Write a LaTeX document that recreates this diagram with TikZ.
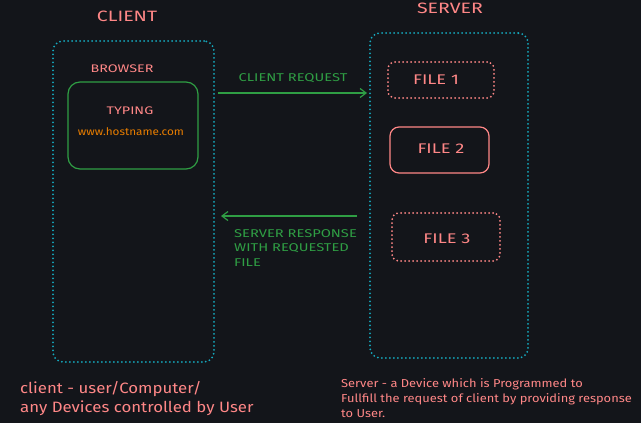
\documentclass[tikz,border=0pt]{standalone}
\usepackage{fontspec}
\setmainfont{Fira Sans}
\newfontfamily\capsfont[FakeStretch=1.3]{Fira Sans}
\newfontfamily\lowfont[FakeStretch=1.12]{Fira Sans}
\usetikzlibrary{arrows.meta}
\definecolor{bg}{RGB}{19,21,26}
\definecolor{salmon}{RGB}{255,135,135}
\definecolor{grn}{RGB}{47,158,68}
\definecolor{cyn}{RGB}{21,170,191}
\definecolor{orng}{RGB}{232,125,0}
\tikzset{
  dotbox/.style={draw=cyn, line width=2pt, dash pattern=on 0pt off 4pt, line cap=round, rounded corners=10pt, inner sep=0pt},
  filedot/.style={draw=salmon, line width=2pt, dash pattern=on 0pt off 4pt, line cap=round, rounded corners=7pt, inner sep=0pt},
  filesolid/.style={draw=salmon, line width=1.2pt, rounded corners=9pt, inner sep=0pt},
  greenbox/.style={draw=grn, line width=1.2pt, rounded corners=12pt, inner sep=0pt},
  title/.style={text=salmon, font=\capsfont\fontsize{15}{17}\selectfont},
  small/.style={text=salmon, font=\capsfont\fontsize{11}{13}\selectfont},
  filetxt/.style={text=salmon, font=\capsfont\fontsize{14}{16}\selectfont},
  glabel/.style={text=grn, font=\capsfont\fontsize{11.3}{14.5}\selectfont, align=left},
  garrow/.style={draw=grn, line width=1.3pt, -{Straight Barb[length=6pt,width=9pt,line width=1.2pt]}},
  note/.style={text=salmon, font=\lowfont\fontsize{15}{19}\selectfont, align=left, inner sep=0pt, anchor=west},
  snote/.style={text=salmon, font=\lowfont\fontsize{11.5}{15}\selectfont, align=left, inner sep=0pt, anchor=north west},
}
\begin{document}
\begin{tikzpicture}[x=1pt,y=-1pt]
\fill[bg] (0,0) rectangle (641,423);
\useasboundingbox (0,0) rectangle (641,423);
% client side
\node[title] (clientT) at (127,16) {CLIENT};
\node[dotbox, minimum width=161pt, minimum height=321pt] (client) at (133.5,201.5) {};
\node[small] (browserT) at (122,69) {BROWSER};
\node[greenbox, minimum width=130pt, minimum height=87pt] (browser) at (133,125.5) {};
\node[small] (typing) at (130,111) {TYPING};
\node[text=orng, font=\lowfont\fontsize{10.5}{12}\selectfont] (url) at (131,132) {www.hostname.com};
% server side
\node[title] (serverT) at (450,8) {SERVER};
\node[dotbox, minimum width=158pt, minimum height=325pt] (server) at (449,195.5) {};
\node[filedot, minimum width=106pt, minimum height=36pt] (f1) at (441,80) {};
\node[filetxt] (f1t) at (436,80) {FILE 1};
\node[filesolid, minimum width=99pt, minimum height=46pt] (f2) at (439.5,150) {};
\node[filetxt] (f2t) at (441,149) {FILE 2};
\node[filedot, minimum width=108pt, minimum height=48pt] (f3) at (446,237) {};
\node[filetxt] (f3t) at (447,239) {FILE 3};
% arrows
\coordinate (rq) at (0,93);
\coordinate (rs) at (0,216);
\draw[garrow] ([xshift=3pt]client.east |- rq) -- ([xshift=-2pt]server.west |- rq);
\draw[garrow] ([xshift=-12pt]server.west |- rs) -- ([xshift=6pt]client.east |- rs);
\node[glabel] (reqT) at (293,78) {CLIENT REQUEST};
\node[glabel, anchor=north west, inner sep=0pt] (resT) at (234,229) {SERVER RESPONSE\\WITH REQUESTED\\FILE};
% notes
\node[note] (cnote) at (20,399) {client - user/Computer/\\any Devices controlled by User};
\node[snote] (snote) at (341,378) {Server - a Device which is Programmed to\\Fullfill the request of client by providing response\\to User.};
\end{tikzpicture}
\end{document}
